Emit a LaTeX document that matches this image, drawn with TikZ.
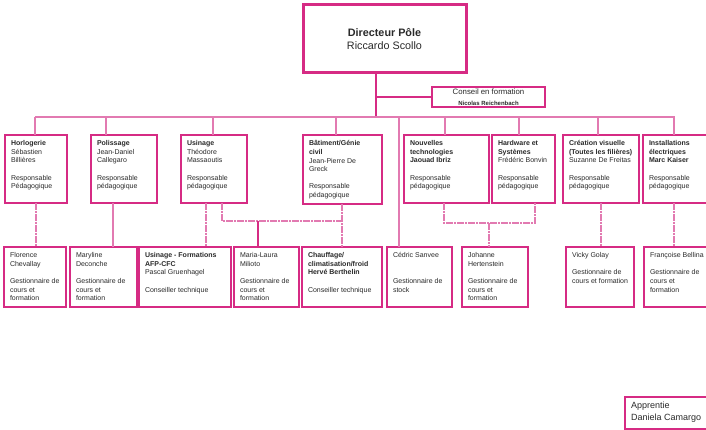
\documentclass[tikz,border=0pt]{standalone}
\usepackage{fontspec}
\setmainfont{Liberation Sans}
\definecolor{mag}{HTML}{D62B84}
\definecolor{lmag}{HTML}{E27AB1}
\definecolor{txtc}{HTML}{2A2A2A}
\tikzset{
  box/.style={draw=mag, line width=1.4pt, rectangle, inner sep=0pt, outer sep=0pt, fill=white},
  txt/.style={inner sep=0pt, outer sep=0pt, align=left, text=txtc, font=\fontsize{7}{8.6}\selectfont},
  conn/.style={draw=lmag, line width=1.4pt},
  dconn/.style={draw=lmag, line width=1.4pt, dash pattern=on 7pt off 1pt on 2pt off 1pt},
  sconn/.style={draw=mag, line width=1.3pt}
}
\newcommand{\obox}[6]{%
  \node[box, minimum width=#4pt, minimum height=#5pt, anchor=north west] (#1) at (#2,#3) {};
  \node[txt, anchor=north west] (#1t) at ([xshift=6pt,yshift=-5.6pt]#1.north west) {#6};
}
\begin{document}
\begin{tikzpicture}[x=1pt,y=-1pt]
\useasboundingbox (0,0) rectangle (706,430);
\clip (0,0) rectangle (706,430);
\fill[white] (0,0) rectangle (706,430);

% Bus and connectors (drawn first)
\coordinate (jn) at (376,117);
\coordinate (jc) at (376,97);
\coordinate (b1) at (35,117);
\coordinate (b2) at (106,117);
\coordinate (b3) at (213,117);
\coordinate (b4) at (336,117);
\coordinate (b5) at (399,117);
\coordinate (b6) at (445,117);
\coordinate (b7) at (519,117);
\coordinate (b8) at (598,117);
\coordinate (b9) at (674,117);
\coordinate (bE) at (675,117);

% Director
\node[draw=mag, line width=3pt, inner sep=0pt, outer sep=0pt, minimum width=163pt, minimum height=68pt, anchor=north west,
      align=center, text=txtc, font=\fontsize{10.8}{13}\selectfont] (dir) at (303,5)
      {\textbf{Directeur Pôle}\\Riccardo Scollo};

% Conseil
\node[draw=mag, line width=1.2pt, inner sep=0pt, outer sep=0pt, minimum width=113pt, minimum height=20pt, anchor=north west,
      align=center, text=txtc] (cons) at (432,87)
      {\fontsize{7.8}{9}\selectfont Conseil en formation\\[-1.5pt]\fontsize{6}{7}\selectfont\textbf{Nicolas Reichenbach}};

\draw[sconn] (dir.south -| jn) -- (jn);
\draw[sconn] (jc) -- (cons.west);
\draw[conn] (b1) -- (bE);

% Top boxes
\obox{horl}{5}{135}{62}{68}{\textbf{Horlogerie}\\Sébastien\\Billières\\[8.6pt]Responsable\\Pédagogique}
\obox{poli}{91}{135}{66}{68}{\textbf{Polissage}\\Jean-Daniel\\Callegaro\\[8.6pt]Responsable\\pédagogique}
\obox{usin}{181}{135}{66}{68}{\textbf{Usinage}\\Théodore\\Massaoutis\\[8.6pt]Responsable\\pédagogique}
\obox{bati}{303}{135}{79}{69}{\textbf{Bâtiment/Génie}\\\textbf{civil}\\Jean-Pierre De\\Greck\\[8.6pt]Responsable\\pédagogique}
\obox{nouv}{404}{135}{85}{68}{\textbf{Nouvelles}\\\textbf{technologies}\\\textbf{Jaouad Ibriz}\\[8.6pt]Responsable\\pédagogique}
\obox{hard}{492}{135}{63}{68}{\textbf{Hardware et}\\\textbf{Systèmes}\\Frédéric Bonvin\\[8.6pt]Responsable\\pédagogique}
\obox{crea}{563}{135}{76}{68}{\textbf{Création visuelle}\\\textbf{(Toutes les filières)}\\Suzanne De Freitas\\[8.6pt]Responsable\\pédagogique}
\obox{inst}{643}{135}{72}{68}{\textbf{Installations}\\\textbf{électriques}\\\textbf{Marc Kaiser}\\[8.6pt]Responsable\\pédagogique}

% Bottom boxes
\obox{flor}{4}{247}{62}{60}{Florence\\Chevallay\\[8.6pt]Gestionnaire de\\cours et\\formation}
\obox{mary}{70}{247}{67}{60}{Maryline\\Deconche\\[8.6pt]Gestionnaire de\\cours et\\formation}
\obox{usif}{139}{247}{92}{60}{\textbf{Usinage - Formations}\\\textbf{AFP-CFC}\\Pascal Gruenhagel\\[8.6pt]Conseiller technique}
\obox{mari}{234}{247}{65}{60}{Maria-Laura\\Milioto\\[8.6pt]Gestionnaire de\\cours et\\formation}
\obox{chau}{302}{247}{80}{60}{\textbf{Chauffage/}\\\textbf{climatisation/froid}\\\textbf{Hervé Berthelin}\\[8.6pt]Conseiller technique}
\obox{cedr}{387}{247}{65}{60}{Cédric Sanvee\\[17.2pt]Gestionnaire de\\stock}
\obox{joha}{462}{247}{66}{60}{Johanne\\Hertenstein\\[8.6pt]Gestionnaire de\\cours et\\formation}
\obox{vick}{566}{247}{68}{60}{Vicky Golay\\[8.6pt]Gestionnaire de\\cours et formation}
\obox{fran}{644}{247}{72}{60}{Françoise Bellina\\[8.6pt]Gestionnaire de\\cours et\\formation}

% Apprentie
\node[box, line width=1.2pt, minimum width=90pt, minimum height=32pt, anchor=north west] (appr) at (625,397) {};
\node[txt, anchor=north west, font=\fontsize{9}{12}\selectfont] (apprt) at ([xshift=6pt,yshift=-4.5pt]appr.north west) {Apprentie\\Daniela Camargo};

% Drops from bus
\draw[conn] (b1) -- (b1 |- horl.north);
\draw[conn] (b2) -- (b2 |- poli.north);
\draw[conn] (b3) -- (b3 |- usin.north);
\draw[conn] (b4) -- (b4 |- bati.north);
\draw[conn] (b5) -- (b5 |- cedr.north);
\draw[conn] (b6) -- (b6 |- nouv.north);
\draw[conn] (b7) -- (b7 |- hard.north);
\draw[conn] (b8) -- (b8 |- crea.north);
\draw[conn] (b9) -- (b9 |- inst.north);

% Lower connectors
\coordinate (u1) at ([xshift=8pt]usin.south);
\coordinate (h1) at (222,221);
\coordinate (h2) at (342,221);
\coordinate (m1) at (258,221);
\coordinate (n1) at (444,223);
\coordinate (n2) at (535,223);
\coordinate (j1) at (489,223);

\draw[dconn] (horl.south) -- (horl.south |- flor.north);
\draw[conn] ([xshift=-11pt]poli.south) -- ([xshift=-11pt]poli.south |- mary.north);
\draw[dconn] ([xshift=-8pt]usin.south) -- ([xshift=-8pt]usin.south |- usif.north);
\draw[dconn] (u1) -- (h1) -- (h2);
\draw[dconn] (bati.south -| h2) -- (h2 |- chau.north);
\draw[sconn] (m1) -- (m1 |- mari.north);
\draw[dconn] (nouv.south -| n1) -- (n1) -- (n2) -- (n2 |- hard.south);
\draw[dconn] (j1) -- (j1 |- joha.north);
\draw[dconn] (crea.south) -- (crea.south |- vick.north);
\draw[dconn] ([xshift=-5pt]inst.south) -- ([xshift=-5pt]inst.south |- fran.north);
\end{tikzpicture}
\end{document}
